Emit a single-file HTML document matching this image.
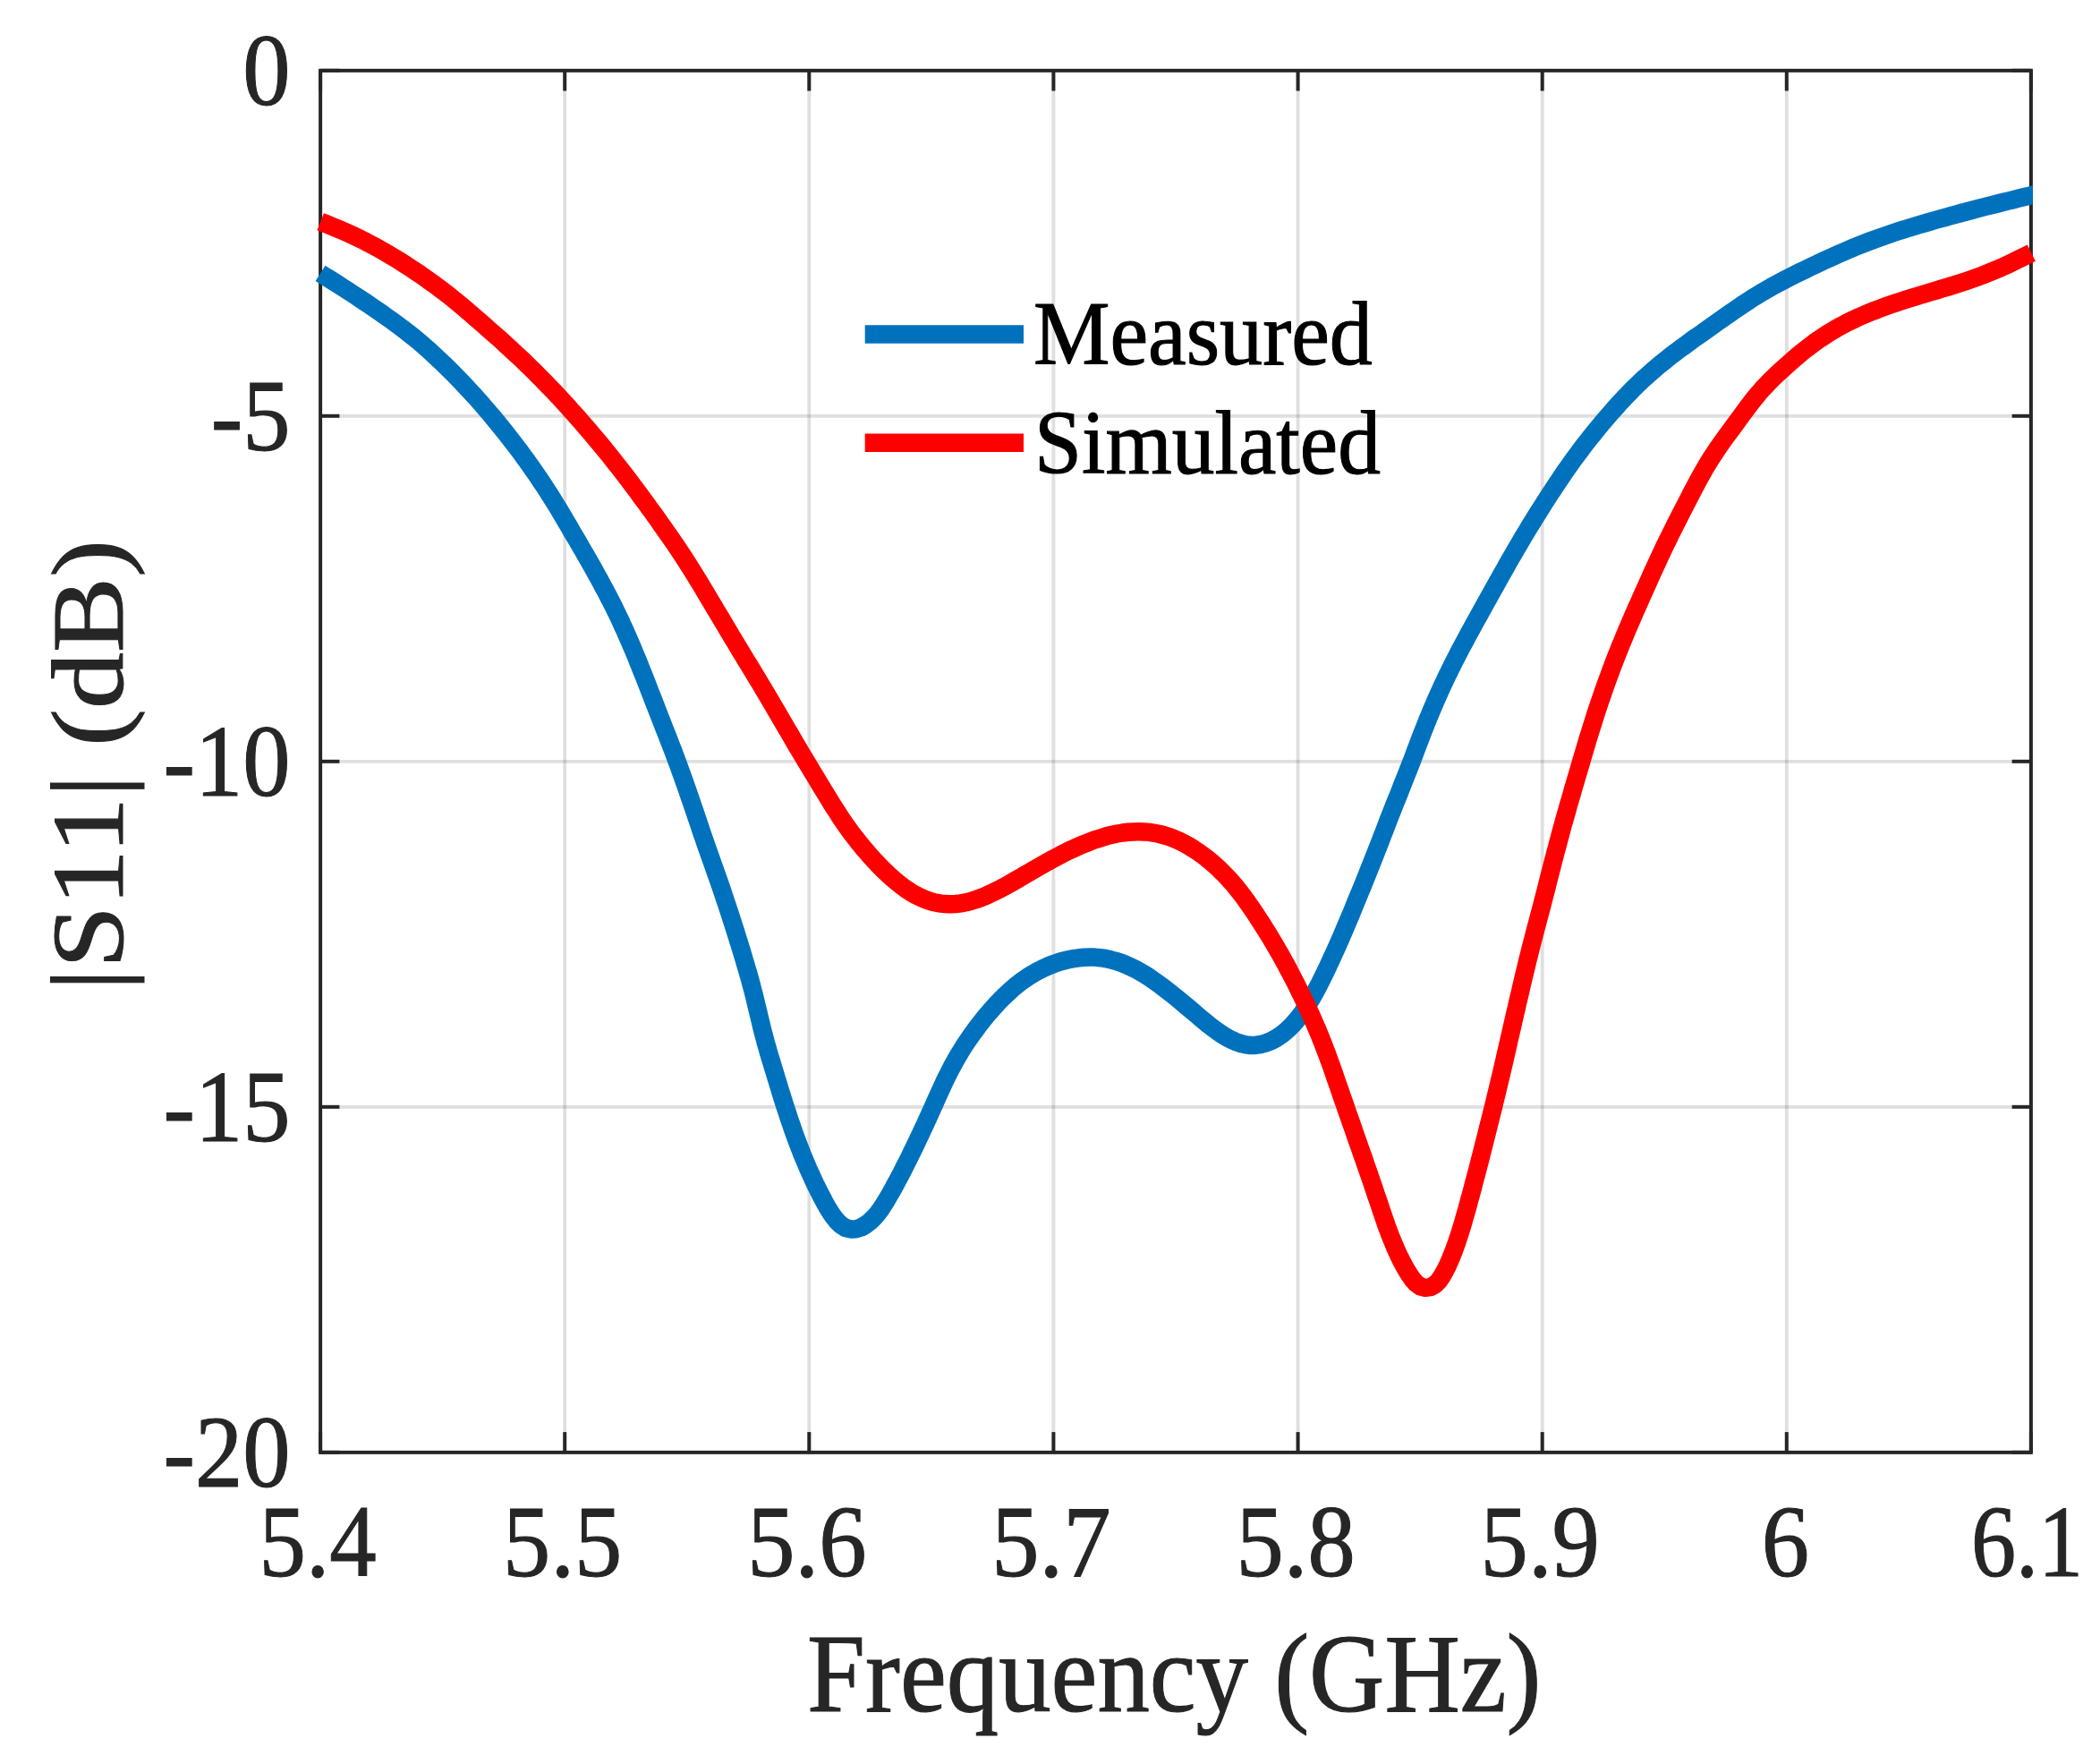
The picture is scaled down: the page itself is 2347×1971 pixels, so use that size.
<!DOCTYPE html>
<html lang="en"><head><meta charset="utf-8"><title>|S11| vs Frequency</title>
<style>html,body{margin:0;padding:0;background:#fff}body{width:2347px;height:1971px;overflow:hidden}svg{display:block}</style>
</head><body>
<svg width="2347" height="1971" viewBox="0 0 2347 1971">
<rect width="2347" height="1971" fill="#fff"/>
<g>
<g stroke="#262626" stroke-opacity="0.15" stroke-width="3.8"><line x1="631.2" y1="78.85" x2="631.2" y2="1622.8"/><line x1="904.3" y1="78.85" x2="904.3" y2="1622.8"/><line x1="1177.4" y1="78.85" x2="1177.4" y2="1622.8"/><line x1="1450.6" y1="78.85" x2="1450.6" y2="1622.8"/><line x1="1723.7" y1="78.85" x2="1723.7" y2="1622.8"/><line x1="1996.8" y1="78.85" x2="1996.8" y2="1622.8"/><line x1="358.1" y1="464.8" x2="2269.9" y2="464.8"/><line x1="358.1" y1="850.8" x2="2269.9" y2="850.8"/><line x1="358.1" y1="1236.8" x2="2269.9" y2="1236.8"/></g>
<g stroke="#262626" stroke-width="4.0"><line x1="358.1" y1="1622.8" x2="358.1" y2="1600.1"/><line x1="358.1" y1="78.85" x2="358.1" y2="101.55"/><line x1="631.2" y1="1622.8" x2="631.2" y2="1600.1"/><line x1="631.2" y1="78.85" x2="631.2" y2="101.55"/><line x1="904.3" y1="1622.8" x2="904.3" y2="1600.1"/><line x1="904.3" y1="78.85" x2="904.3" y2="101.55"/><line x1="1177.4" y1="1622.8" x2="1177.4" y2="1600.1"/><line x1="1177.4" y1="78.85" x2="1177.4" y2="101.55"/><line x1="1450.6" y1="1622.8" x2="1450.6" y2="1600.1"/><line x1="1450.6" y1="78.85" x2="1450.6" y2="101.55"/><line x1="1723.7" y1="1622.8" x2="1723.7" y2="1600.1"/><line x1="1723.7" y1="78.85" x2="1723.7" y2="101.55"/><line x1="1996.8" y1="1622.8" x2="1996.8" y2="1600.1"/><line x1="1996.8" y1="78.85" x2="1996.8" y2="101.55"/><line x1="2269.9" y1="1622.8" x2="2269.9" y2="1600.1"/><line x1="2269.9" y1="78.85" x2="2269.9" y2="101.55"/><line x1="358.1" y1="78.8" x2="379.4" y2="78.8"/><line x1="2269.9" y1="78.8" x2="2248.6" y2="78.8"/><line x1="358.1" y1="464.8" x2="379.4" y2="464.8"/><line x1="2269.9" y1="464.8" x2="2248.6" y2="464.8"/><line x1="358.1" y1="850.8" x2="379.4" y2="850.8"/><line x1="2269.9" y1="850.8" x2="2248.6" y2="850.8"/><line x1="358.1" y1="1236.8" x2="379.4" y2="1236.8"/><line x1="2269.9" y1="1236.8" x2="2248.6" y2="1236.8"/><line x1="358.1" y1="1622.8" x2="379.4" y2="1622.8"/><line x1="2269.9" y1="1622.8" x2="2248.6" y2="1622.8"/><rect x="358.1" y="78.85" width="1911.8" height="1544.0" fill="none"/></g>
<clipPath id="axclip"><rect x="0" y="0" width="2271.8" height="1971"/></clipPath>
<path clip-path="url(#axclip)" d="M358.1,305.4 L363.2,308.6 L368.3,311.8 L373.4,315.0 L378.4,318.2 L383.5,321.5 L388.5,324.7 L393.6,328.0 L398.6,331.3 L403.6,334.6 L408.6,337.9 L413.6,341.3 L418.5,344.7 L423.5,348.1 L428.4,351.5 L433.3,355.0 L438.2,358.4 L443.1,362.0 L447.9,365.6 L452.7,369.2 L457.4,372.9 L462.1,376.6 L466.7,380.4 L471.3,384.3 L475.8,388.2 L480.3,392.2 L484.7,396.3 L489.1,400.4 L493.5,404.5 L497.8,408.7 L502.1,412.9 L506.3,417.1 L510.5,421.4 L514.7,425.7 L518.9,430.1 L523.0,434.5 L527.0,438.9 L531.1,443.3 L535.1,447.8 L539.1,452.3 L543.0,456.9 L546.9,461.4 L550.8,466.0 L554.6,470.6 L558.4,475.3 L562.2,480.0 L565.9,484.7 L569.6,489.4 L573.3,494.1 L577.0,498.9 L580.6,503.7 L584.1,508.5 L587.7,513.4 L591.2,518.3 L594.7,523.2 L598.1,528.1 L601.5,533.0 L604.8,538.0 L608.2,543.0 L611.4,548.0 L614.7,553.1 L617.9,558.2 L621.0,563.3 L624.2,568.4 L627.2,573.5 L630.3,578.7 L633.3,583.9 L636.4,589.1 L639.4,594.3 L642.4,599.4 L645.5,604.6 L648.5,609.8 L651.5,615.0 L654.5,620.2 L657.5,625.4 L660.5,630.6 L663.4,635.8 L666.3,641.1 L669.2,646.3 L672.1,651.6 L674.9,656.9 L677.8,662.2 L680.5,667.5 L683.3,672.8 L686.0,678.2 L688.6,683.6 L691.3,689.0 L693.8,694.4 L696.3,699.9 L698.8,705.3 L701.2,710.8 L703.6,716.3 L706.0,721.9 L708.3,727.4 L710.6,732.9 L712.9,738.5 L715.1,744.1 L717.3,749.6 L719.6,755.2 L721.8,760.8 L724.0,766.4 L726.1,772.0 L728.3,777.6 L730.5,783.2 L732.7,788.8 L734.9,794.4 L737.0,800.0 L739.2,805.6 L741.4,811.2 L743.6,816.7 L745.8,822.3 L748.0,827.9 L750.1,833.5 L752.3,839.1 L754.4,844.8 L756.5,850.4 L758.6,856.0 L760.6,861.7 L762.7,867.3 L764.7,873.0 L766.7,878.6 L768.7,884.3 L770.6,889.9 L772.6,895.6 L774.5,901.3 L776.5,907.0 L778.4,912.7 L780.3,918.3 L782.2,924.0 L784.1,929.7 L786.1,935.4 L788.0,941.1 L790.0,946.7 L792.0,952.4 L794.0,958.0 L796.0,963.7 L798.0,969.3 L800.0,975.0 L802.0,980.7 L804.0,986.3 L806.0,992.0 L807.9,997.7 L809.8,1003.4 L811.7,1009.1 L813.6,1014.8 L815.5,1020.5 L817.3,1026.2 L819.2,1031.9 L821.0,1037.6 L822.8,1043.4 L824.6,1049.1 L826.4,1054.8 L828.2,1060.6 L829.9,1066.3 L831.6,1072.1 L833.3,1077.8 L835.0,1083.6 L836.7,1089.3 L838.3,1095.1 L839.9,1100.9 L841.4,1106.7 L842.9,1112.5 L844.3,1118.3 L845.7,1124.2 L847.1,1130.0 L848.5,1135.8 L849.9,1141.7 L851.3,1147.5 L852.7,1153.3 L854.3,1159.1 L855.8,1164.9 L857.5,1170.7 L859.1,1176.4 L860.8,1182.2 L862.6,1187.9 L864.3,1193.7 L866.1,1199.4 L867.8,1205.1 L869.6,1210.9 L871.3,1216.6 L873.1,1222.4 L874.9,1228.1 L876.7,1233.8 L878.6,1239.5 L880.4,1245.2 L882.3,1250.9 L884.3,1256.6 L886.2,1262.3 L888.2,1267.9 L890.3,1273.6 L892.4,1279.2 L894.6,1284.8 L896.8,1290.4 L899.1,1295.9 L901.4,1301.4 L903.8,1307.0 L906.3,1312.4 L908.8,1317.9 L911.3,1323.3 L914.0,1328.7 L916.7,1334.1 L919.5,1339.4 L922.3,1344.7 L925.3,1350.0 L928.5,1355.1 L932.0,1360.1 L935.8,1364.8 L940.2,1368.9 L945.1,1372.0 L950.7,1373.4 L956.6,1373.2 L962.3,1371.5 L967.5,1368.5 L972.3,1364.9 L976.6,1360.7 L980.6,1356.2 L984.2,1351.4 L987.5,1346.3 L990.7,1341.2 L993.7,1336.0 L996.7,1330.8 L999.6,1325.5 L1002.4,1320.2 L1005.3,1314.9 L1008.1,1309.6 L1010.8,1304.2 L1013.5,1298.9 L1016.2,1293.5 L1018.8,1288.1 L1021.5,1282.7 L1024.1,1277.3 L1026.6,1271.9 L1029.2,1266.5 L1031.7,1261.0 L1034.3,1255.6 L1036.8,1250.1 L1039.3,1244.6 L1041.7,1239.2 L1044.2,1233.7 L1046.6,1228.2 L1049.1,1222.7 L1051.6,1217.3 L1054.1,1211.8 L1056.6,1206.4 L1059.3,1201.0 L1062.0,1195.7 L1064.8,1190.4 L1067.7,1185.1 L1070.7,1179.9 L1073.8,1174.8 L1076.9,1169.7 L1080.2,1164.7 L1083.6,1159.7 L1087.0,1154.8 L1090.6,1150.0 L1094.2,1145.2 L1097.9,1140.4 L1101.7,1135.7 L1105.6,1131.1 L1109.6,1126.6 L1113.6,1122.1 L1117.7,1117.8 L1122.0,1113.5 L1126.4,1109.3 L1130.8,1105.3 L1135.4,1101.4 L1140.1,1097.7 L1145.0,1094.2 L1150.0,1090.8 L1155.0,1087.7 L1160.3,1084.8 L1165.6,1082.1 L1171.1,1079.6 L1176.7,1077.4 L1182.3,1075.4 L1188.1,1073.7 L1193.9,1072.3 L1199.8,1071.1 L1205.8,1070.3 L1211.7,1069.7 L1217.7,1069.5 L1223.6,1069.6 L1229.6,1070.2 L1235.5,1071.0 L1241.3,1072.3 L1247.0,1073.8 L1252.7,1075.7 L1258.2,1077.8 L1263.7,1080.3 L1269.1,1082.9 L1274.3,1085.9 L1279.5,1088.9 L1284.6,1092.2 L1289.5,1095.6 L1294.5,1099.1 L1299.3,1102.7 L1304.1,1106.4 L1308.9,1110.1 L1313.6,1113.9 L1318.3,1117.7 L1322.9,1121.6 L1327.6,1125.5 L1332.2,1129.4 L1336.8,1133.3 L1341.4,1137.2 L1346.1,1141.1 L1350.8,1145.0 L1355.6,1148.7 L1360.5,1152.3 L1365.5,1155.7 L1370.6,1158.9 L1375.9,1161.7 L1381.3,1164.1 L1386.9,1166.0 L1392.6,1167.4 L1398.4,1168.0 L1404.2,1167.7 L1409.9,1166.8 L1415.6,1165.1 L1421.0,1162.9 L1426.3,1160.1 L1431.3,1156.8 L1436.0,1153.2 L1440.5,1149.2 L1444.7,1144.9 L1448.7,1140.4 L1452.5,1135.6 L1456.1,1130.8 L1459.5,1125.7 L1462.8,1120.6 L1465.9,1115.4 L1468.9,1110.2 L1471.8,1104.8 L1474.6,1099.5 L1477.3,1094.0 L1480.0,1088.6 L1482.6,1083.2 L1485.2,1077.7 L1487.7,1072.2 L1490.3,1066.7 L1492.7,1061.3 L1495.2,1055.8 L1497.6,1050.3 L1500.0,1044.7 L1502.4,1039.2 L1504.7,1033.7 L1507.0,1028.2 L1509.4,1022.6 L1511.7,1017.1 L1513.9,1011.5 L1516.2,1006.0 L1518.5,1000.4 L1520.8,994.9 L1523.1,989.3 L1525.3,983.8 L1527.6,978.2 L1529.8,972.6 L1532.0,967.0 L1534.2,961.5 L1536.4,955.9 L1538.6,950.3 L1540.8,944.7 L1543.0,939.1 L1545.1,933.5 L1547.3,927.9 L1549.5,922.3 L1551.6,916.7 L1553.8,911.1 L1556.0,905.5 L1558.2,899.9 L1560.4,894.4 L1562.7,888.8 L1564.9,883.2 L1567.1,877.6 L1569.3,872.0 L1571.5,866.5 L1573.7,860.9 L1575.9,855.3 L1578.1,849.7 L1580.2,844.1 L1582.3,838.4 L1584.5,832.8 L1586.6,827.2 L1588.7,821.6 L1590.9,816.0 L1593.1,810.4 L1595.3,804.9 L1597.6,799.3 L1599.9,793.8 L1602.3,788.2 L1604.6,782.7 L1607.1,777.2 L1609.5,771.8 L1612.0,766.3 L1614.6,760.9 L1617.1,755.4 L1619.8,750.1 L1622.4,744.7 L1625.1,739.3 L1627.9,734.0 L1630.6,728.6 L1633.4,723.3 L1636.3,718.0 L1639.1,712.7 L1641.9,707.4 L1644.8,702.2 L1647.7,696.9 L1650.6,691.6 L1653.5,686.4 L1656.4,681.1 L1659.3,675.9 L1662.2,670.6 L1665.2,665.4 L1668.1,660.1 L1671.0,654.9 L1674.0,649.7 L1676.9,644.4 L1679.8,639.2 L1682.8,634.0 L1685.7,628.7 L1688.7,623.5 L1691.7,618.3 L1694.7,613.1 L1697.8,607.9 L1700.8,602.8 L1703.9,597.6 L1707.0,592.5 L1710.1,587.3 L1713.3,582.2 L1716.4,577.1 L1719.6,572.0 L1722.8,567.0 L1726.0,561.9 L1729.3,556.8 L1732.5,551.8 L1735.8,546.8 L1739.1,541.7 L1742.5,536.7 L1745.8,531.8 L1749.2,526.8 L1752.7,521.9 L1756.1,517.0 L1759.6,512.1 L1763.2,507.3 L1766.8,502.5 L1770.4,497.7 L1774.1,493.0 L1777.8,488.2 L1781.6,483.6 L1785.4,478.9 L1789.2,474.3 L1793.1,469.7 L1797.0,465.1 L1800.9,460.6 L1804.9,456.1 L1808.9,451.6 L1813.0,447.2 L1817.1,442.8 L1821.3,438.5 L1825.5,434.2 L1829.8,430.0 L1834.1,425.9 L1838.5,421.8 L1843.0,417.8 L1847.5,413.8 L1852.0,410.0 L1856.7,406.1 L1861.3,402.4 L1866.0,398.6 L1870.8,395.0 L1875.6,391.4 L1880.4,387.8 L1885.3,384.3 L1890.1,380.7 L1895.0,377.2 L1899.9,373.8 L1904.8,370.3 L1909.7,366.8 L1914.6,363.3 L1919.5,359.9 L1924.5,356.4 L1929.4,352.9 L1934.3,349.5 L1939.2,346.1 L1944.2,342.7 L1949.2,339.4 L1954.2,336.1 L1959.2,332.8 L1964.3,329.7 L1969.4,326.6 L1974.6,323.6 L1979.8,320.6 L1985.1,317.7 L1990.4,314.9 L1995.7,312.1 L2001.0,309.4 L2006.4,306.7 L2011.8,304.0 L2017.2,301.4 L2022.6,298.8 L2028.0,296.2 L2033.5,293.7 L2038.9,291.1 L2044.4,288.6 L2049.9,286.1 L2055.3,283.7 L2060.8,281.3 L2066.3,278.9 L2071.9,276.5 L2077.4,274.3 L2083.0,272.1 L2088.6,269.9 L2094.2,267.8 L2099.8,265.8 L2105.5,263.8 L2111.2,261.8 L2116.9,259.9 L2122.6,258.1 L2128.3,256.2 L2134.0,254.5 L2139.8,252.7 L2145.5,251.0 L2151.3,249.3 L2157.1,247.6 L2162.8,246.0 L2168.6,244.4 L2174.4,242.8 L2180.2,241.2 L2186.0,239.6 L2191.8,238.0 L2197.6,236.5 L2203.4,235.0 L2209.2,233.4 L2215.0,231.9 L2220.8,230.4 L2226.7,229.0 L2232.5,227.5 L2238.3,226.0 L2244.1,224.6 L2250.0,223.2 L2255.8,221.7 L2261.6,220.3 L2267.5,218.9 L2273.3,217.5 L2279.1,216.1 L2285.0,214.7" fill="none" stroke="#0072BD" stroke-width="20.5" stroke-linejoin="round"/>
<path d="M358.2,247.7 L363.8,249.9 L369.4,252.2 L374.9,254.5 L380.4,256.8 L385.9,259.2 L391.4,261.6 L396.8,264.1 L402.2,266.7 L407.6,269.4 L412.9,272.2 L418.2,275.0 L423.4,277.9 L428.7,280.9 L433.8,283.9 L439.0,287.0 L444.1,290.1 L449.2,293.3 L454.3,296.5 L459.3,299.8 L464.3,303.1 L469.3,306.4 L474.2,309.8 L479.1,313.3 L484.0,316.8 L488.8,320.4 L493.6,324.0 L498.4,327.6 L503.1,331.3 L507.8,335.1 L512.4,338.9 L517.0,342.7 L521.6,346.6 L526.2,350.5 L530.7,354.4 L535.3,358.4 L539.8,362.3 L544.3,366.3 L548.8,370.3 L553.3,374.2 L557.8,378.2 L562.2,382.2 L566.7,386.3 L571.1,390.3 L575.5,394.4 L579.9,398.5 L584.3,402.6 L588.6,406.8 L592.9,411.0 L597.2,415.2 L601.4,419.4 L605.6,423.7 L609.8,428.0 L614.0,432.3 L618.2,436.6 L622.3,441.0 L626.4,445.3 L630.5,449.8 L634.5,454.2 L638.5,458.7 L642.5,463.1 L646.5,467.6 L650.4,472.1 L654.4,476.7 L658.3,481.2 L662.2,485.8 L666.0,490.4 L669.9,495.0 L673.7,499.6 L677.5,504.2 L681.3,508.9 L685.0,513.6 L688.7,518.3 L692.4,523.0 L696.1,527.8 L699.8,532.6 L703.4,537.3 L707.0,542.1 L710.6,546.9 L714.2,551.8 L717.7,556.6 L721.3,561.4 L724.8,566.3 L728.4,571.1 L731.9,576.0 L735.4,580.9 L738.8,585.8 L742.3,590.7 L745.7,595.6 L749.2,600.5 L752.6,605.5 L756.0,610.4 L759.3,615.4 L762.6,620.4 L765.9,625.4 L769.1,630.5 L772.3,635.5 L775.5,640.6 L778.6,645.7 L781.8,650.9 L784.9,656.0 L788.0,661.2 L791.0,666.3 L794.1,671.5 L797.2,676.6 L800.2,681.8 L803.3,686.9 L806.4,692.1 L809.5,697.2 L812.5,702.4 L815.6,707.6 L818.7,712.7 L821.8,717.8 L824.9,723.0 L828.0,728.1 L831.1,733.2 L834.2,738.4 L837.4,743.5 L840.5,748.6 L843.6,753.8 L846.7,758.9 L849.8,764.0 L852.9,769.2 L855.9,774.3 L859.0,779.5 L862.1,784.7 L865.1,789.9 L868.1,795.0 L871.1,800.2 L874.2,805.4 L877.2,810.6 L880.2,815.8 L883.3,820.9 L886.3,826.1 L889.3,831.3 L892.4,836.5 L895.4,841.6 L898.5,846.8 L901.6,851.9 L904.7,857.1 L907.8,862.2 L910.9,867.3 L914.0,872.5 L917.1,877.6 L920.2,882.7 L923.4,887.9 L926.5,893.0 L929.6,898.1 L932.8,903.2 L936.1,908.2 L939.3,913.2 L942.7,918.2 L946.1,923.1 L949.6,928.0 L953.2,932.8 L956.9,937.6 L960.6,942.3 L964.4,946.9 L968.4,951.5 L972.3,956.1 L976.4,960.6 L980.5,965.0 L984.7,969.3 L989.1,973.6 L993.5,977.8 L998.0,981.8 L1002.6,985.8 L1007.3,989.5 L1012.2,993.1 L1017.2,996.4 L1022.3,999.5 L1027.6,1002.2 L1033.0,1004.6 L1038.6,1006.7 L1044.3,1008.3 L1050.1,1009.4 L1056.0,1010.1 L1061.9,1010.3 L1067.8,1010.0 L1073.8,1009.4 L1079.6,1008.3 L1085.4,1006.8 L1091.1,1005.0 L1096.7,1003.0 L1102.3,1000.7 L1107.8,998.2 L1113.2,995.5 L1118.6,992.8 L1123.9,989.9 L1129.2,987.0 L1134.4,984.0 L1139.7,981.0 L1144.9,977.9 L1150.1,974.9 L1155.3,971.9 L1160.6,968.9 L1165.8,965.9 L1171.0,962.9 L1176.3,960.0 L1181.6,957.2 L1186.9,954.4 L1192.3,951.7 L1197.7,949.1 L1203.2,946.6 L1208.7,944.2 L1214.3,941.9 L1219.9,939.7 L1225.6,937.7 L1231.3,935.9 L1237.1,934.2 L1242.9,932.7 L1248.7,931.5 L1254.6,930.5 L1260.6,929.8 L1266.5,929.4 L1272.5,929.2 L1278.5,929.4 L1284.4,929.9 L1290.3,930.8 L1296.1,932.0 L1301.8,933.5 L1307.5,935.3 L1313.1,937.5 L1318.5,939.9 L1323.9,942.6 L1329.1,945.5 L1334.2,948.7 L1339.2,952.0 L1344.1,955.5 L1348.9,959.2 L1353.6,963.0 L1358.2,967.0 L1362.6,971.1 L1366.9,975.3 L1371.1,979.6 L1375.1,984.0 L1379.1,988.5 L1382.9,993.2 L1386.6,997.9 L1390.2,1002.7 L1393.8,1007.6 L1397.2,1012.5 L1400.6,1017.4 L1403.9,1022.4 L1407.2,1027.5 L1410.5,1032.5 L1413.7,1037.6 L1416.9,1042.7 L1420.0,1047.8 L1423.1,1053.0 L1426.1,1058.2 L1429.2,1063.4 L1432.1,1068.6 L1435.0,1073.9 L1437.9,1079.1 L1440.7,1084.4 L1443.5,1089.7 L1446.3,1095.1 L1449.0,1100.4 L1451.6,1105.8 L1454.3,1111.2 L1456.9,1116.6 L1459.5,1122.0 L1462.0,1127.4 L1464.6,1132.9 L1467.0,1138.4 L1469.4,1143.8 L1471.8,1149.4 L1474.1,1154.9 L1476.4,1160.5 L1478.6,1166.0 L1480.7,1171.6 L1482.9,1177.2 L1484.9,1182.9 L1487.0,1188.5 L1489.0,1194.2 L1491.0,1199.8 L1492.9,1205.5 L1494.9,1211.2 L1496.9,1216.8 L1498.8,1222.5 L1500.8,1228.2 L1502.8,1233.8 L1504.7,1239.5 L1506.7,1245.2 L1508.7,1250.8 L1510.7,1256.5 L1512.7,1262.2 L1514.6,1267.8 L1516.6,1273.5 L1518.6,1279.2 L1520.6,1284.8 L1522.6,1290.5 L1524.6,1296.2 L1526.5,1301.8 L1528.5,1307.5 L1530.5,1313.2 L1532.4,1318.8 L1534.4,1324.5 L1536.3,1330.2 L1538.2,1335.9 L1540.2,1341.5 L1542.1,1347.2 L1544.0,1352.9 L1545.9,1358.6 L1547.9,1364.3 L1549.8,1369.9 L1551.9,1375.5 L1554.0,1381.1 L1556.3,1386.7 L1558.6,1392.2 L1561.0,1397.7 L1563.5,1403.2 L1566.2,1408.6 L1569.0,1413.9 L1572.0,1419.2 L1575.2,1424.3 L1578.7,1429.3 L1582.6,1433.9 L1587.4,1437.3 L1593.0,1438.8 L1598.6,1438.1 L1603.8,1435.4 L1608.0,1431.1 L1611.4,1426.2 L1614.4,1420.9 L1617.2,1415.5 L1619.7,1410.0 L1622.1,1404.4 L1624.3,1398.8 L1626.4,1393.2 L1628.4,1387.5 L1630.3,1381.8 L1632.1,1376.1 L1633.9,1370.4 L1635.6,1364.6 L1637.2,1358.8 L1638.9,1353.1 L1640.5,1347.3 L1642.0,1341.5 L1643.6,1335.7 L1645.2,1329.9 L1646.7,1324.1 L1648.2,1318.3 L1649.8,1312.5 L1651.3,1306.7 L1652.8,1300.9 L1654.3,1295.1 L1655.8,1289.2 L1657.3,1283.4 L1658.7,1277.6 L1660.2,1271.8 L1661.7,1266.0 L1663.1,1260.1 L1664.6,1254.3 L1666.1,1248.5 L1667.5,1242.7 L1669.0,1236.9 L1670.4,1231.0 L1671.8,1225.2 L1673.2,1219.4 L1674.6,1213.5 L1676.0,1207.7 L1677.4,1201.9 L1678.8,1196.0 L1680.1,1190.2 L1681.5,1184.3 L1682.8,1178.5 L1684.2,1172.6 L1685.5,1166.8 L1686.8,1160.9 L1688.2,1155.1 L1689.5,1149.2 L1690.8,1143.4 L1692.2,1137.5 L1693.5,1131.7 L1694.9,1125.8 L1696.2,1120.0 L1697.6,1114.1 L1699.0,1108.3 L1700.3,1102.4 L1701.7,1096.6 L1703.1,1090.7 L1704.5,1084.9 L1705.9,1079.1 L1707.3,1073.2 L1708.8,1067.4 L1710.2,1061.6 L1711.7,1055.8 L1713.2,1050.0 L1714.7,1044.2 L1716.2,1038.4 L1717.8,1032.6 L1719.3,1026.8 L1720.8,1021.0 L1722.4,1015.2 L1723.9,1009.3 L1725.4,1003.5 L1726.9,997.7 L1728.4,991.9 L1729.8,986.1 L1731.3,980.3 L1732.8,974.5 L1734.3,968.6 L1735.8,962.8 L1737.3,957.0 L1738.8,951.2 L1740.4,945.4 L1741.9,939.6 L1743.5,933.8 L1745.0,928.0 L1746.6,922.3 L1748.2,916.5 L1749.9,910.7 L1751.5,904.9 L1753.1,899.1 L1754.8,893.4 L1756.5,887.6 L1758.1,881.8 L1759.8,876.1 L1761.5,870.3 L1763.2,864.6 L1764.9,858.8 L1766.6,853.0 L1768.3,847.3 L1770.0,841.5 L1771.7,835.8 L1773.4,830.0 L1775.1,824.3 L1776.9,818.5 L1778.7,812.8 L1780.5,807.1 L1782.3,801.4 L1784.1,795.7 L1786.0,790.0 L1787.9,784.3 L1789.9,778.6 L1791.8,772.9 L1793.8,767.3 L1795.8,761.6 L1797.9,756.0 L1800.0,750.3 L1802.1,744.7 L1804.2,739.1 L1806.4,733.5 L1808.6,727.9 L1810.8,722.4 L1813.1,716.8 L1815.4,711.3 L1817.7,705.7 L1820.1,700.2 L1822.4,694.7 L1824.8,689.2 L1827.2,683.7 L1829.6,678.2 L1832.1,672.7 L1834.5,667.2 L1837.0,661.7 L1839.4,656.3 L1841.9,650.8 L1844.3,645.3 L1846.8,639.8 L1849.3,634.4 L1851.8,628.9 L1854.3,623.5 L1856.9,618.0 L1859.4,612.6 L1862.0,607.2 L1864.7,601.8 L1867.3,596.4 L1870.0,591.1 L1872.7,585.7 L1875.4,580.3 L1878.1,575.0 L1880.9,569.6 L1883.6,564.3 L1886.4,559.0 L1889.1,553.6 L1891.9,548.3 L1894.7,543.0 L1897.5,537.7 L1900.4,532.4 L1903.3,527.2 L1906.3,522.0 L1909.4,516.9 L1912.5,511.8 L1915.8,506.8 L1919.1,501.8 L1922.6,496.9 L1926.0,492.0 L1929.5,487.1 L1933.1,482.3 L1936.7,477.5 L1940.2,472.7 L1943.8,467.8 L1947.3,463.0 L1950.9,458.2 L1954.4,453.4 L1958.1,448.6 L1961.8,444.0 L1965.6,439.4 L1969.5,434.9 L1973.6,430.6 L1977.7,426.3 L1981.9,422.1 L1986.3,417.9 L1990.7,413.9 L1995.1,409.9 L1999.6,405.9 L2004.1,401.9 L2008.6,398.0 L2013.2,394.2 L2017.9,390.4 L2022.6,386.8 L2027.4,383.2 L2032.3,379.7 L2037.3,376.4 L2042.3,373.1 L2047.4,370.0 L2052.6,366.9 L2057.8,364.0 L2063.1,361.2 L2068.5,358.5 L2073.9,355.9 L2079.3,353.5 L2084.8,351.1 L2090.4,348.8 L2096.0,346.6 L2101.6,344.5 L2107.2,342.4 L2112.9,340.4 L2118.6,338.5 L2124.3,336.6 L2130.0,334.8 L2135.7,333.0 L2141.5,331.2 L2147.2,329.5 L2153.0,327.7 L2158.7,326.0 L2164.5,324.3 L2170.2,322.5 L2176.0,320.8 L2181.7,319.1 L2187.5,317.3 L2193.2,315.5 L2198.8,313.6 L2204.5,311.6 L2210.1,309.6 L2215.8,307.5 L2221.3,305.3 L2226.9,303.0 L2232.4,300.7 L2237.9,298.3 L2243.4,295.8 L2248.8,293.2 L2254.2,290.6 L2259.5,288.0 L2264.9,285.3 L2270.3,282.6" fill="none" stroke="#FF0000" stroke-width="20.5" stroke-linejoin="round"/>
<line x1="966.7" y1="373.5" x2="1144.0" y2="373.5" stroke="#0072BD" stroke-width="20.5"/>
<line x1="966.7" y1="494.8" x2="1144.0" y2="494.8" stroke="#FF0000" stroke-width="20.5"/>
<g font-family="'Liberation Serif', 'Times New Roman', Times, serif" fill="#000" stroke="#000" stroke-width="1.1" font-size="102.1"><text transform="translate(1155.0 407.3) scale(0.9412 1)">Measured</text><text transform="translate(1156.0 529.3) scale(0.9346 1)">Simulated</text></g>
<g font-family="'Liberation Serif', 'Times New Roman', Times, serif" fill="#262626" stroke="#262626" stroke-width="1.1" font-size="114.6"><text transform="translate(355.1 1761.2) scale(0.9161 1)" text-anchor="middle">5.4</text><text transform="translate(628.7 1761.2) scale(0.9300 1)" text-anchor="middle">5.5</text><text transform="translate(901.8 1761.2) scale(0.9300 1)" text-anchor="middle">5.6</text><text transform="translate(1174.9 1761.2) scale(0.9300 1)" text-anchor="middle">5.7</text><text transform="translate(1448.1 1761.2) scale(0.9300 1)" text-anchor="middle">5.8</text><text transform="translate(1721.2 1761.2) scale(0.9300 1)" text-anchor="middle">5.9</text><text transform="translate(1995.3 1761.2) scale(0.9300 1)" text-anchor="middle">6</text><text transform="translate(2265.6 1761.2) scale(0.8742 1)" text-anchor="middle">6.1</text><text transform="translate(324.5 117.2) scale(0.93 1)" text-anchor="end">0</text><text transform="translate(324.5 503.2) scale(0.93 1)" text-anchor="end">-5</text><text transform="translate(324.5 889.2) scale(0.93 1)" text-anchor="end">-10</text><text transform="translate(324.5 1275.2) scale(0.93 1)" text-anchor="end">-15</text><text transform="translate(324.5 1661.2) scale(0.93 1)" text-anchor="end">-20</text></g>
<g font-family="'Liberation Serif', 'Times New Roman', Times, serif" fill="#262626" stroke="#262626" stroke-width="1.1" font-size="126"><text transform="translate(1312.3 1911.9) scale(0.927 1)" text-anchor="middle">Frequency (GHz)</text><text transform="translate(136.9 855.2) scale(0.905 1) rotate(-90)" text-anchor="middle">|S11| (dB)</text></g>
</g>
</svg>
</body></html>
